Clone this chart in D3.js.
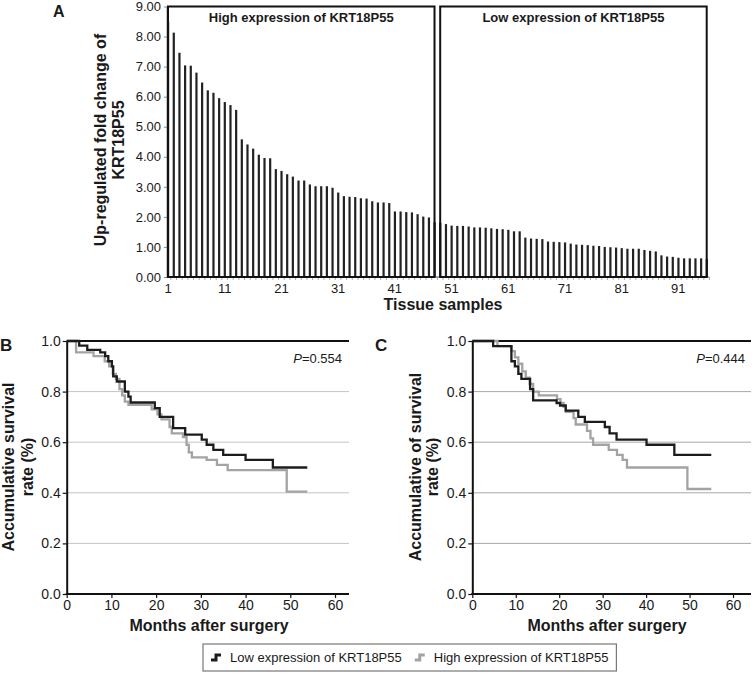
<!DOCTYPE html>
<html><head><meta charset="utf-8">
<script src="https://cdn.jsdelivr.net/npm/d3@7"></script>
<style>
body{margin:0;background:#fff;}
svg{display:block;font-family:"Liberation Sans",Arial,sans-serif;}
</style></head>
<body><svg id="chart" width="752" height="676"></svg>
<script>
// ---------- DATA ----------
// Panel A: fold change per tissue sample (sorted)
const foldChange = [8.50, 8.13, 7.46, 7.04, 7.03, 6.80, 6.47, 6.21, 6.13, 5.95, 5.82, 5.72, 5.56,
  4.58, 4.41, 4.27, 4.07, 3.96, 3.95, 3.59, 3.53, 3.42, 3.34, 3.21, 3.21, 3.08, 3.02, 3.02, 3.02,
  2.97, 2.81, 2.69, 2.67, 2.66, 2.62, 2.61, 2.52, 2.48, 2.48, 2.46, 2.18, 2.18, 2.16, 2.15, 2.09,
  2.01, 1.98, 1.82,
  1.80, 1.76, 1.71, 1.70, 1.70, 1.68, 1.65, 1.65, 1.64, 1.62, 1.60, 1.59, 1.57, 1.52, 1.52, 1.31,
  1.28, 1.27, 1.26, 1.18, 1.17, 1.16, 1.15, 1.11, 1.08, 1.07, 1.06, 1.04, 1.03, 1.00, 0.99, 0.98,
  0.96, 0.94, 0.94, 0.94, 0.90, 0.87, 0.85, 0.72, 0.68, 0.67, 0.64, 0.62, 0.62, 0.62, 0.62, 0.60];
const highCount = 48;
const groupLabels = ["High expression of KRT18P55", "Low expression of KRT18P55"];
const sampleTickLabels = ["1","11","21","31","41","51","61","71","81","91"];
const foldTicks = [0,1,2,3,4,5,6,7,8,9];

// Panel B survival (months, survival)
const bLowT  = [0, 2.8, 4.6, 7.5, 8.6, 9.3, 10.1, 10.4, 11.2, 13.0, 13.8, 14.3, 19.7, 20.8, 23.8, 26.5, 30.2, 31.3, 32.8, 35.0, 40.0, 46.1, 53.8];
const bLowS  = [1.0, 0.982, 0.965, 0.955, 0.94, 0.92, 0.90, 0.86, 0.84, 0.80, 0.78, 0.757, 0.735, 0.70, 0.656, 0.63, 0.61, 0.59, 0.57, 0.55, 0.53, 0.50, 0.50];
const bHighT = [0, 2.1, 6.0, 8.5, 9.5, 10.3, 11.0, 11.8, 12.4, 13.0, 13.8, 19.0, 20.3, 21.2, 23.0, 23.5, 26.0, 26.8, 27.3, 28.0, 31.3, 33.6, 36.0, 49.2, 53.8];
const bHighS = [1.0, 0.955, 0.94, 0.92, 0.90, 0.87, 0.85, 0.81, 0.785, 0.76, 0.748, 0.73, 0.71, 0.69, 0.66, 0.635, 0.62, 0.59, 0.56, 0.54, 0.53, 0.51, 0.49, 0.405, 0.405];
// Panel C survival
const cLowT  = [0, 4.8, 9.0, 9.8, 10.6, 11.3, 13.3, 14.0, 19.4, 20.2, 21.5, 24.4, 25.9, 30.5, 31.6, 33.2, 40.1, 46.5, 55.0];
const cLowS  = [1.0, 0.98, 0.92, 0.90, 0.87, 0.85, 0.81, 0.765, 0.755, 0.745, 0.725, 0.70, 0.68, 0.66, 0.635, 0.61, 0.59, 0.55, 0.55];
const cHighT = [0, 5.8, 9.0, 9.8, 10.6, 11.5, 12.3, 13.2, 14.0, 15.3, 19.5, 20.3, 21.0, 21.5, 23.3, 23.8, 26.4, 27.2, 27.8, 31.4, 33.3, 34.6, 35.6, 49.5, 55.0];
const cHighS = [1.0, 0.98, 0.96, 0.935, 0.91, 0.88, 0.855, 0.83, 0.80, 0.785, 0.77, 0.755, 0.74, 0.72, 0.695, 0.67, 0.645, 0.615, 0.59, 0.57, 0.55, 0.53, 0.50, 0.415, 0.415];

const survTicks = [0, 0.2, 0.4, 0.6, 0.8, 1.0];
const monthTicks = [0, 10, 20, 30, 40, 50, 60];
const seriesNames = ["Low expression of KRT18P55", "High expression of KRT18P55"];
const seriesColors = ["#1c1c1c", "#a3a3a3"];
const pValues = ["0.554", "0.444"];

// ---------- DRAW ----------
const svg = d3.select("#chart");
const TXT = "#1a1a1a";

// ===== Panel A =====
const sampleIdx = foldChange.map((d, i) => i + 1);
const xA = d3.scalePoint().domain(sampleIdx).range([168, 706.7]);
const yA = d3.scaleLinear().domain([0, 9]).range([277, 6.5]);
const gA = svg.append("g");

gA.append("text").attr("x", 53).attr("y", 17).attr("font-size", 16).attr("font-weight", "bold").attr("fill", TXT).text("A");

// x axis minor ticks
gA.selectAll("line.mt").data(sampleIdx).join("line")
  .attr("x1", d => xA(d) + xA.step() / 2).attr("x2", d => xA(d) + xA.step() / 2)
  .attr("y1", 277).attr("y2", 280).attr("stroke", "#aaa").attr("stroke-width", 1);

// bars
gA.selectAll("rect.bar").data(foldChange).join("rect")
  .attr("x", (d, i) => xA(i + 1) - 1).attr("width", 2.2)
  .attr("y", d => yA(d)).attr("height", d => yA(0) - yA(d)).attr("fill", "#222");

// y axis
const yAxisA = d3.axisLeft(yA).tickValues(foldTicks).tickFormat(d3.format(".2f")).tickSize(3).tickSizeOuter(0);
const gyA = gA.append("g").attr("transform", "translate(167,0)").call(yAxisA);
gyA.select(".domain").attr("stroke", "#222").attr("stroke-width", 1.5);
gyA.selectAll(".tick line").attr("stroke", "#888");
gyA.selectAll(".tick text").attr("font-size", 13).attr("fill", TXT).attr("font-family", "Liberation Sans, Arial, sans-serif").attr("x", -6);

// x baseline
gA.append("line").attr("x1", 167).attr("x2", 709).attr("y1", 277).attr("y2", 277).attr("stroke", "#555").attr("stroke-width", 1);

// x tick labels
gA.selectAll("text.xl").data(sampleTickLabels).join("text")
  .attr("x", d => xA(+d)).attr("y", 293).attr("text-anchor", "middle")
  .attr("font-size", 13).attr("fill", TXT).text(d => d);

// group boxes
const groups = [[1, highCount], [highCount + 1, foldChange.length]];
gA.selectAll("rect.box").data(groups).join("rect")
  .attr("x", d => xA(d[0])).attr("width", d => xA(d[1]) - xA(d[0]))
  .attr("y", yA(9)).attr("height", yA(0) - yA(9))
  .attr("fill", "none").attr("stroke", "#111").attr("stroke-width", 2);
gA.selectAll("text.gl").data(groups).join("text")
  .attr("x", d => (xA(d[0]) + xA(d[1])) / 2).attr("y", 22).attr("text-anchor", "middle")
  .attr("font-size", 13).attr("font-weight", "bold").attr("fill", TXT)
  .text((d, i) => groupLabels[i]);

// axis titles
const yTitleA = gA.append("text").attr("transform", "translate(0,140) rotate(-90)")
  .attr("text-anchor", "middle").attr("font-size", 16).attr("font-weight", "bold").attr("fill", TXT);
yTitleA.append("tspan").attr("x", 0).attr("y", 106).text("Up-regulated fold change of");
yTitleA.append("tspan").attr("x", 0).attr("y", 124).text("KRT18P55");
gA.append("text").attr("x", 443).attr("y", 310).attr("text-anchor", "middle")
  .attr("font-size", 16).attr("font-weight", "bold").attr("fill", TXT).text("Tissue samples");

// ===== Panels B & C =====
function kmPanel(cfg) {
  const g = svg.append("g");
  const x = d3.scaleLinear().domain([0, 60]).range([cfg.x0, cfg.x60]);
  const y = d3.scaleLinear().domain([0, 1]).range([594, 341]);
  // grid
  g.selectAll("line.grid").data(survTicks.filter(d => d > 0 && d < 1)).join("line")
    .attr("x1", cfg.x0).attr("x2", cfg.xEnd).attr("y1", d => y(d)).attr("y2", d => y(d))
    .attr("stroke", cfg.grid).attr("stroke-width", 1);
  g.append("line").attr("x1", cfg.x0).attr("x2", cfg.xEnd).attr("y1", y(1)).attr("y2", y(1))
    .attr("stroke", "#111").attr("stroke-width", 2);
  // curves
  const line = d3.line().x(d => x(d[0])).y(d => y(d[1])).curve(d3.curveStepAfter);
  const curves = [d3.zip(cfg.lowT, cfg.lowS), d3.zip(cfg.highT, cfg.highS)];
  g.selectAll("path.km").data([curves[1], curves[0]]).join("path")
    .attr("d", line).attr("fill", "none")
    .attr("stroke", (d, i) => i === 0 ? seriesColors[1] : seriesColors[0])
    .attr("stroke-width", 2.3);
  // axes
  const ax = d3.axisBottom(x).tickValues(monthTicks).tickSize(4).tickSizeOuter(0);
  const gx = g.append("g").attr("transform", "translate(0,594)").call(ax);
  gx.select(".domain").remove();
  gx.selectAll(".tick line").attr("stroke", "#111").attr("stroke-width", 1.2);
  gx.selectAll(".tick text").attr("font-size", 14).attr("fill", TXT).attr("font-family", "Liberation Sans, Arial, sans-serif").attr("y", 6);
  g.append("line").attr("x1", cfg.x0 - 1).attr("x2", cfg.xEnd).attr("y1", 594).attr("y2", 594).attr("stroke", "#111").attr("stroke-width", 2);
  const ay = d3.axisLeft(y).tickValues(survTicks).tickFormat(d3.format(".1f")).tickSize(4).tickSizeOuter(0);
  const gy = g.append("g").attr("transform", `translate(${cfg.x0},0)`).call(ay);
  gy.select(".domain").attr("stroke", "#111").attr("stroke-width", 2);
  gy.selectAll(".tick line").attr("stroke", "#111").attr("stroke-width", 1.2);
  gy.selectAll(".tick text").attr("font-size", 14).attr("fill", TXT).attr("font-family", "Liberation Sans, Arial, sans-serif").attr("x", -6);
  // labels
  g.append("text").attr("x", cfg.letterX).attr("y", 351).attr("font-size", 17).attr("font-weight", "bold").attr("fill", TXT).text(cfg.letter);
  const pt = g.append("text").attr("x", cfg.pX).attr("y", 363).attr("text-anchor", "end").attr("font-size", 13).attr("fill", TXT);
  pt.append("tspan").attr("font-style", "italic").text("P");
  pt.append("tspan").text("=" + cfg.p);
  g.append("text").attr("x", cfg.xTitleX).attr("y", 631).attr("text-anchor", "middle")
    .attr("font-size", 16).attr("font-weight", "bold").attr("fill", TXT).text("Months after surgery");
  const yt = g.append("text").attr("transform", `translate(0,467) rotate(-90)`)
    .attr("text-anchor", "middle").attr("font-size", 16).attr("font-weight", "bold").attr("fill", TXT);
  yt.append("tspan").attr("x", 0).attr("y", cfg.yl1).text(cfg.yTitle);
  yt.append("tspan").attr("x", 0).attr("y", cfg.yl2).text("rate (%)");
}

kmPanel({x0: 66.7, x60: 335, xEnd: 349, grid: "#c4c4c4", lowT: bLowT, lowS: bLowS, highT: bHighT, highS: bHighS,
  letter: "B", letterX: 0, p: pValues[0], pX: 342, xTitleX: 209, yTitle: "Accumulative survival", yl1: 14, yl2: 33});
kmPanel({x0: 472.3, x60: 733, xEnd: 751, grid: "#a8a8a8", lowT: cLowT, lowS: cLowS, highT: cHighT, highS: cHighS,
  letter: "C", letterX: 375, p: pValues[1], pX: 745, xTitleX: 607, yTitle: "Accumulative of survival", yl1: 421, yl2: 438});

// ===== Legend =====
const lg = svg.append("g");
const lgBox = lg.append("rect").attr("x", 203).attr("y", 644).attr("height", 27)
  .attr("fill", "#fff").attr("stroke", "#777").attr("stroke-width", 1.2);
let cx = 211;
seriesNames.forEach((name, i) => {
  lg.append("path").attr("d", `M${cx},${660} h5 v-5 h5`).attr("fill", "none")
    .attr("stroke", seriesColors[i]).attr("stroke-width", 3);
  const t = lg.append("text").attr("x", cx + 19).attr("y", 662).attr("font-size", 13).attr("fill", TXT).text(name);
  cx += 19 + t.node().getComputedTextLength() + 13;
});
lgBox.attr("width", cx - 203 - 5);
</script></body></html>
